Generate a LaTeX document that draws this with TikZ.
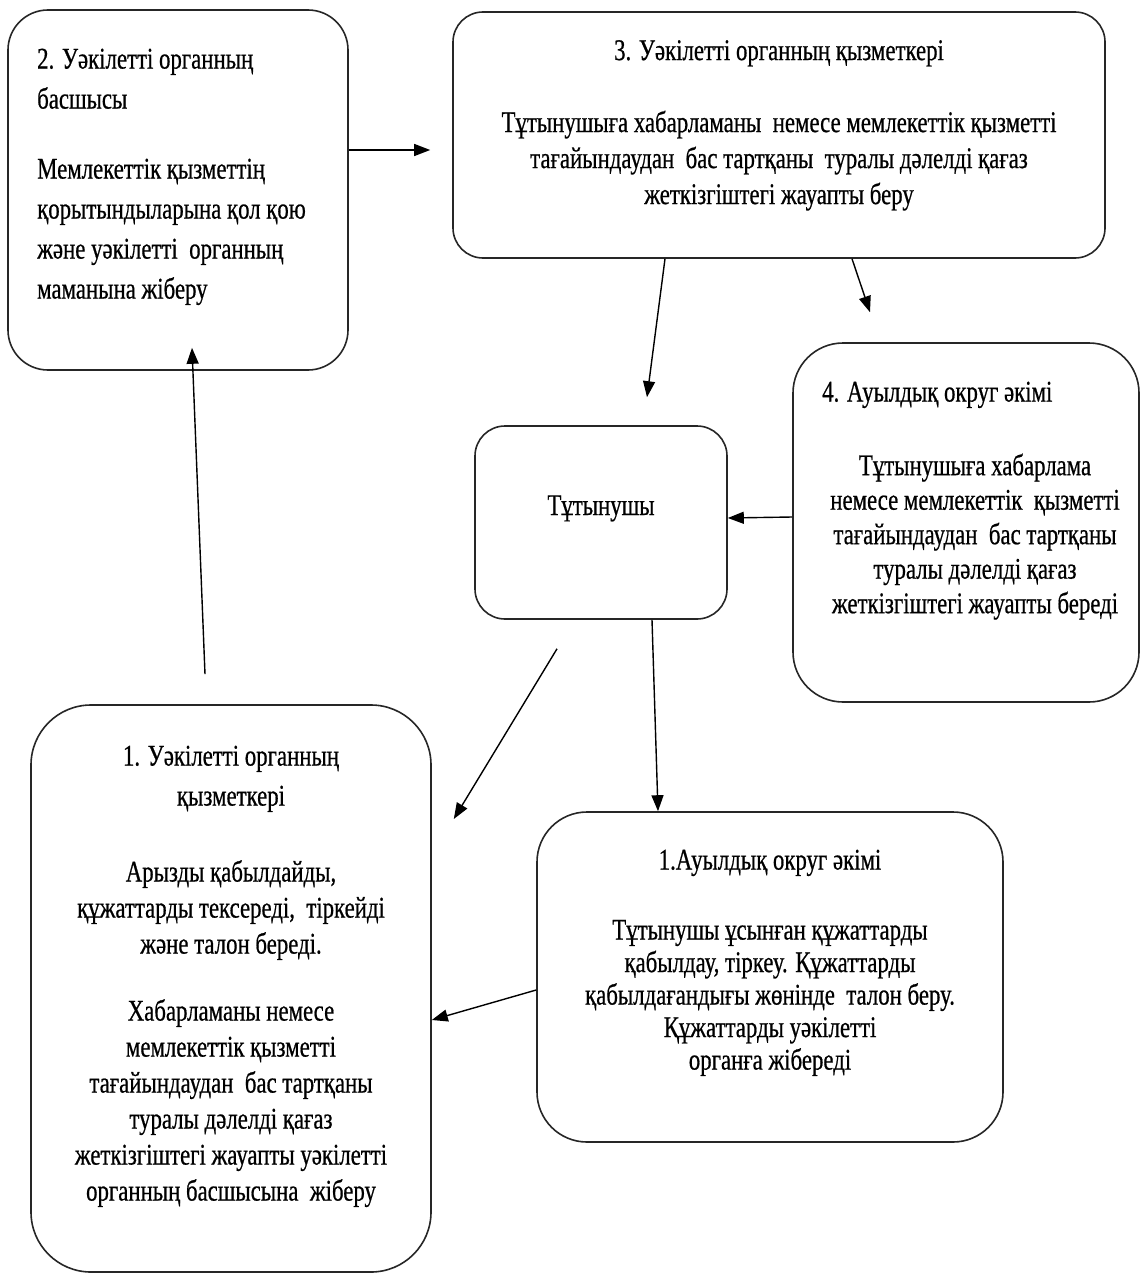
\documentclass[tikz,border=0pt]{standalone}
\usepackage{fontspec}
\setmainfont{Liberation Serif}[FakeStretch=0.76,FakeBold=0.6]
\usetikzlibrary{arrows.meta}
\tikzstyle{stage}=[rectangle,
	line width=1.6pt,
	draw=black!85,
	inner sep=0pt]
\tikzstyle{caption}=[inner sep=0pt,
	font=\fontsize{30}{36}\selectfont]
\tikzstyle{flow}=[line width=1.4pt,
	-{Triangle[length=16pt,width=12pt]}]

\begin{document}
\begin{tikzpicture}[x=1pt,y=-1pt]
	\useasboundingbox (0,0) rectangle (1142,1279);
	% boxes
	\node (lead) [stage, rounded corners=40pt, minimum width=340pt, minimum height=360pt] at (178,190) {};
	\node (staff3) [stage, rounded corners=30pt, minimum width=652pt, minimum height=246pt] at (779,135) {};
	\node (akim4) [stage, rounded corners=50pt, minimum width=346pt, minimum height=359pt] at (966,522.5) {};
	\node (cons) [stage, rounded corners=30pt, minimum width=252pt, minimum height=193pt, left of=akim4, node distance=365pt] {};
	\node (akim1) [stage, rounded corners=50pt, minimum width=466pt, minimum height=330pt] at (770,977) {};
	\node (staff1) [stage, rounded corners=60pt, minimum width=400pt, minimum height=567pt] at (231,988.5) {};
	% texts
	\node (lead-txt) [caption, font=\fontsize{30}{40}\selectfont, anchor=north west, align=left] at (37,48.5) {2. Уәкілетті органның\\басшысы\\[30pt]Мемлекеттік қызметтің\\қорытындыларына қол қою\\және уәкілетті~ органның\\маманына жіберу};
	\node (staff3-txt) [caption, anchor=north, align=center] at (779,40) {3. Уәкілетті органның қызметкері\\[36pt]Тұтынушыға хабарламаны~ немесе мемлекеттік қызметті\\тағайындаудан~ бас тартқаны~ туралы дәлелді қағаз\\жеткізгіштегі жауапты беру};
	\node (akim4-ttl) [caption, anchor=north west] at (822,381.5) {4. Ауылдық округ әкімі};
	\node (akim4-txt) [caption, font=\fontsize{30}{34.5}\selectfont, anchor=north, align=center] at (975,453.5) {Тұтынушыға хабарлама\\немесе мемлекеттік~ қызметті\\тағайындаудан~ бас тартқаны\\туралы дәлелді қағаз\\жеткізгіштегі жауапты береді};
	\node (cons-txt) [caption, anchor=base] at (601,515) {Тұтынушы};
	\node (akim1-txt) [caption, font=\fontsize{30}{32.5}\selectfont, anchor=north, align=center] at (770,849.5) {1.Ауылдық округ әкімі\\[37.5pt]Тұтынушы ұсынған құжаттарды\\қабылдау, тіркеу. Құжаттарды\\қабылдағандығы жөнінде~ талон беру.\\Құжаттарды уәкілетті\\органға жібереді};
	\node (staff1-txt) [caption, anchor=north, align=center] at (231,745.5) {1. Уәкілетті органның\\[4pt]қызметкері\\[40pt]Арызды қабылдайды,\\құжаттарды тексереді,~ тіркейді\\және талон береді.\\[31pt]Хабарламаны немесе\\мемлекеттік қызметті\\тағайындаудан~ бас тартқаны\\туралы дәлелді қағаз\\жеткізгіштегі жауапты уәкілетті\\органның басшысына~ жіберу};
	% arrows
	\draw[flow] ([yshift=40pt]lead.east) -- ([xshift=-22pt,yshift=-15pt]staff3.west);
	\draw[flow] ([xshift=-114pt]staff3.south) -- ([xshift=46pt,yshift=28pt]cons.north);
	\draw[flow] ([xshift=73pt]staff3.south) -- ([xshift=-96pt,yshift=30pt]akim4.north);
	\draw[flow] ([yshift=5.5pt]akim4.west) -- ([yshift=4.5pt]cons.east);
	\draw[flow] ([xshift=51pt]cons.south) -- ([xshift=-112pt]akim1.north);
	\draw[flow] ([xshift=-44pt,yshift=-29pt]cons.south) -- ([xshift=22pt,yshift=169.5pt]staff1.east);
	\draw[flow] ([yshift=-13pt]akim1.west) -- ([yshift=-31.5pt]staff1.east);
	\draw[flow] ([xshift=-26pt,yshift=30pt]staff1.north) -- ([xshift=14pt,yshift=23pt]lead.south);
\end{tikzpicture}
\end{document}
